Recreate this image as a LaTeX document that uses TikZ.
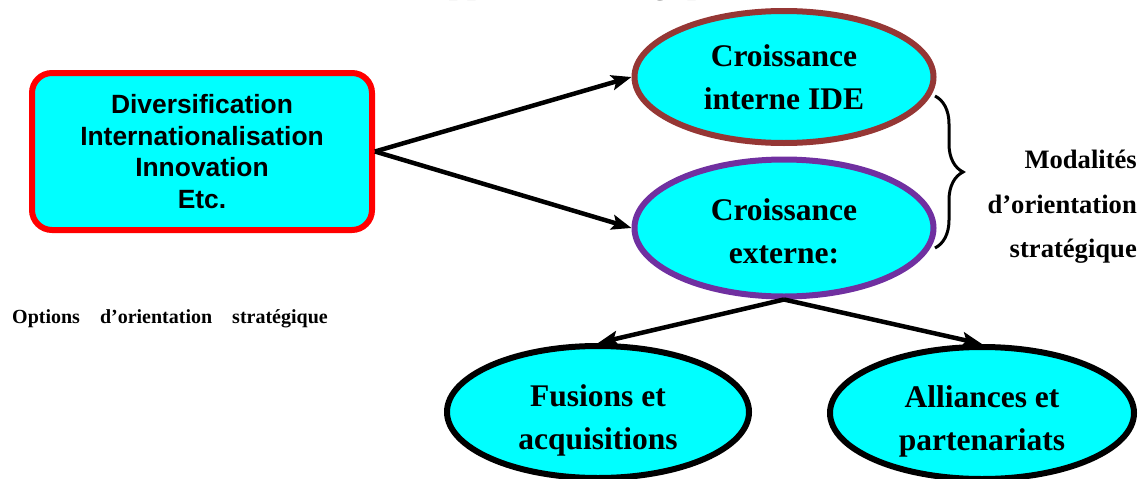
\documentclass[tikz,border=0pt]{standalone}
\usepackage{fontspec}
\setmainfont{Liberation Serif}
\newfontfamily\arialfont{Liberation Sans}
\usetikzlibrary{shapes.geometric, arrows.meta, positioning, decorations.pathreplacing}
\definecolor{aqua}{RGB}{0,255,255}
\definecolor{brick}{RGB}{149,55,53}
\definecolor{modepurple}{RGB}{112,48,160}

\begin{document}
\begin{tikzpicture}[x=1pt, y=-1pt,
    optbox/.style={rectangle, draw=red, fill=aqua, line width=6pt, rounded corners=20pt, minimum width=340pt, minimum height=157pt, inner sep=0pt, align=center, font=\arialfont\bfseries\fontsize{26.4}{31.5}\selectfont},
    growth/.style={ellipse, fill=aqua, line width=6pt, minimum width=299pt, minimum height=132pt, inner sep=0pt, align=center, font=\bfseries\fontsize{31.5}{43}\selectfont},
    link/.style={-{Stealth[length=20pt, width=15pt, inset=4pt]}, line width=4.5pt}
]
    \useasboundingbox (0,0) rectangle (1148,479);

    % title, cut off by the page edge
    \begin{scope}
        \clip (0,0) rectangle (1148,479);
        \node[anchor=base, inner sep=0pt, font=\bfseries\fontsize{33}{40}\selectfont] (title) at (577,-6) {Approche stratégique};
    \end{scope}

    \node[optbox] (opts) at (202,151.5) {Diversification\\Internationalisation\\Innovation\\Etc.};
    \node[growth, draw=brick] (internal) at (784,77) {Croissance\\interne IDE};
    \node[growth, draw=modepurple, minimum height=137pt, text height=72pt] (external) at (784,228) {Croissance\\externe:};
    \node[growth, draw=black, minimum width=302pt, text height=82pt] (merge) at (598,412) {Fusions et\\acquisitions};
    \node[growth, draw=black, minimum width=304pt, text height=82pt] (ally) at (982,413) {Alliances et\\partenariats};

    \node[anchor=east, inner sep=0pt, align=right, font=\bfseries\fontsize{26.6}{44.5}\selectfont] (modes) at (1137,207) {Modalités\\d’orientation\\stratégique};
    \node[anchor=base west, inner sep=0pt, font=\bfseries\fontsize{20}{24}\selectfont] (optlabel) at (12,323) {Options\quad d’orientation\quad stratégique};

    \draw[link] (opts.east) -- (internal.west);
    \draw[link] (opts.east) -- (external.west);
    \draw[link] (external.south) -- (merge.north);
    \draw[link] (external.south) -- (ally.north);

    % brace grouping the two growth modes
    \coordinate (bracetop) at (935,96);
    \coordinate (bracebot) at (935,248);
    \draw[decorate, decoration={brace, amplitude=28pt}, line width=3pt] (bracetop) -- (bracebot);
\end{tikzpicture}
\end{document}
